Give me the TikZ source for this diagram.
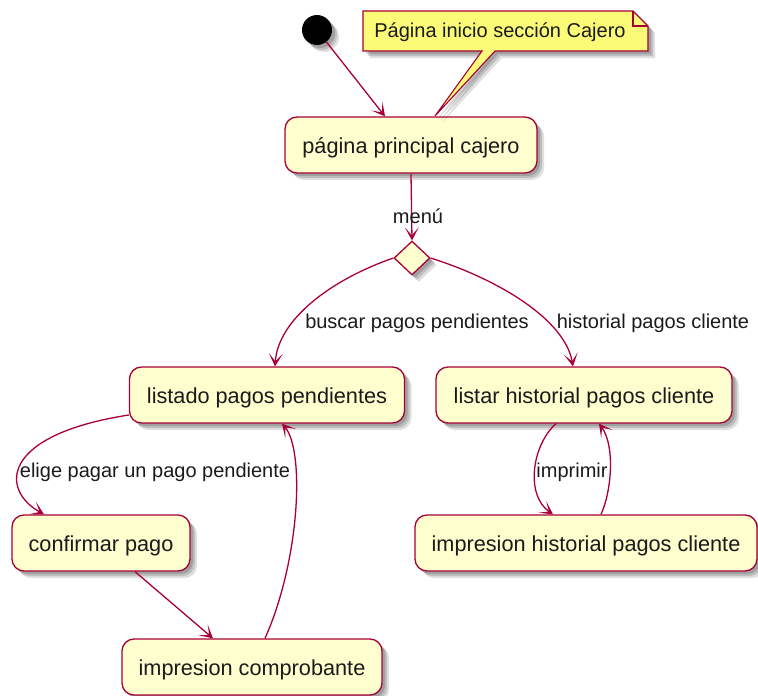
\documentclass[tikz,border=0pt]{standalone}
\usepackage{fontspec}
\setmainfont{Liberation Sans}
\usetikzlibrary{arrows.meta,shadows,shapes.geometric,calc}

\definecolor{umlred}{HTML}{A80036}
\definecolor{actfill}{HTML}{FEFECE}
\definecolor{notefill}{HTML}{FBFB77}
\definecolor{inktext}{HTML}{1A1A1A}

\tikzset{
  % soft shadow built from a few stacked offsets
  shade4/.style={
    drop shadow={shadow xshift=3pt, shadow yshift=-3pt, fill=black, opacity=0.16},
    drop shadow={shadow xshift=5pt, shadow yshift=-5pt, fill=black, opacity=0.15},
    drop shadow={shadow xshift=7pt, shadow yshift=-7pt, fill=black, opacity=0.12}},
  act/.style={draw=umlred, fill=actfill, line width=1.3pt, rounded corners=12pt,
    minimum height=56pt, inner sep=0pt, text=inktext, text height=20pt, text depth=4pt,
    font=\fontsize{21.7}{26}\selectfont, shade4},
  choice/.style={diamond, draw=umlred, fill=actfill, line width=1.3pt, inner sep=0pt,
    minimum width=36pt, minimum height=34pt, shade4},
  flow/.style={draw=umlred, line width=1.3pt,
    -{Stealth[length=13pt, width=14pt, inset=8pt]}},
  lbl/.style={font=\fontsize{20}{24}\selectfont, inner sep=0pt, text=inktext},
}

\begin{document}
\begin{tikzpicture}[x=1pt, y=-1pt]
\useasboundingbox (0,0) rectangle (758,696);

% start point
\node[circle, fill=black, minimum size=30pt, inner sep=0pt, shade4] (start) at (317,30) {};

% activities
\node[act, minimum width=252pt] (main) at (411,145) {página principal cajero};
\node[choice] (dia) at (412,258) {};
\node[act, minimum width=275pt] (listado) at (267,395) {listado pagos pendientes};
\node[act, minimum width=296pt] (listar) at (584,395) {listar historial pagos cliente};
\node[act, minimum width=178pt] (confirmar) at (101,543) {confirmar pago};
\node[act, minimum width=342pt] (histimp) at (586,543) {impresion historial pagos cliente};
\node[act, minimum width=260pt] (compro) at (252,667) {impresion comprobante};

% note attached to the main page
\foreach \d/\o in {3/0.16,5/0.15,7/0.12}
  \fill[black, opacity=\o, xshift=\d pt, yshift=-\d pt]
    (363,11) -- (633,11) -- (648,26) -- (648,51) -- (495,51) -- (435,116)
    -- (482,51) -- (363,51) -- cycle;
\draw[umlred, fill=notefill, line width=1.1pt, line join=miter]
  (363,11) -- (633,11) -- (648,26) -- (648,51) -- (495,51) -- (435,116)
  -- (482,51) -- (363,51) -- cycle;
\draw[umlred, line width=1.1pt] (633,11) -- (633,26) -- (648,26);
\node[lbl] (note) at (500,32) {Página inicio sección Cajero};

% transitions
\draw[flow] (start) -- ([xshift=-26pt]main.north);
\draw[flow] (main.south) -- (dia.north);
\node[lbl] (lmenu) at (418,216) {menú};

\draw[flow] (dia.west) .. controls (330,280) and (278,320) .. ([xshift=8pt]listado.north);
\node[lbl] (lbuscar) at (417,323) {buscar pagos pendientes};

\draw[flow] (dia.east) .. controls (500,280) and (565,320) .. ([xshift=-11pt]listar.north);
\node[lbl] (lhist) at (653,323) {historial pagos cliente};

\draw[flow] ([yshift=-20pt]listado.west) .. controls (0,435) and (0,490) .. ([xshift=-57pt]confirmar.north);
\node[lbl] (lelige) at (155,472) {elige pagar un pago pendiente};

\draw[flow] ([xshift=34pt]confirmar.south) -- ([xshift=-39pt]compro.north);
\draw[flow] ([xshift=13pt]compro.north) .. controls (300,560) and (305,450) .. ([xshift=15pt]listado.south);

\draw[flow] ([xshift=-28pt]listar.south) .. controls (532,445) and (525,495) .. ([xshift=-33pt]histimp.north);
\node[lbl] (limprimir) at (572,472) {imprimir};
\draw[flow] ([xshift=15pt]histimp.north) .. controls (612,490) and (615,445) .. ([xshift=15pt]listar.south);
\end{tikzpicture}
\end{document}
